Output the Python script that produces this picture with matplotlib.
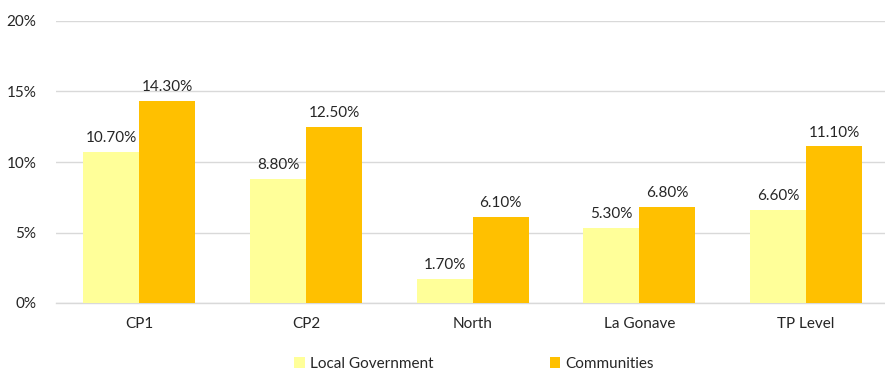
import numpy as np
import matplotlib
matplotlib.use("Agg")
import matplotlib.pyplot as plt
from matplotlib.patches import Patch

regions = ["CP1", "CP2", "North", "La Gonave", "TP Level"]
local_government = [10.7, 8.8, 1.7, 5.3, 6.6]
communities = [14.3, 12.5, 6.1, 6.8, 11.1]
series_names = ["Local Government", "Communities"]
y_ticks = [0, 5, 10, 15, 20]

light = "#FFFF99"
gold = "#FFC000"
text_col = "#262626"

plt.rcParams["font.family"] = ["Lato", "DejaVu Sans"]

fig = plt.figure(figsize=(8.85, 3.71), dpi=100)
ax = fig.add_axes([56 / 885, 68 / 371, 833.5 / 885, 282 / 371])

x = np.arange(len(regions))
w = 0.336
b1 = ax.bar(x - w / 2, local_government, w, color=light, zorder=3)
b2 = ax.bar(x + w / 2, communities, w, color=gold, zorder=3)

for bars, vals in ((b1, local_government), (b2, communities)):
    for bar, v in zip(bars, vals):
        ax.annotate(f"{v:.2f}%", (bar.get_x() + bar.get_width() / 2, v),
                    xytext=(0, 5), textcoords="offset points",
                    ha="center", va="bottom", fontsize=11, color=text_col)

ax.set_xlim(-0.5, len(regions) - 0.5)
ax.set_ylim(0, 20)
ax.set_yticks(y_ticks)
ax.set_yticklabels([f"{t}%" for t in y_ticks])
ax.set_xticks(x)
ax.set_xticklabels(regions)
ax.tick_params(axis="both", length=0, labelsize=11, labelcolor=text_col)
ax.tick_params(axis="y", pad=14)
ax.tick_params(axis="x", pad=10)

ax.grid(axis="y", color="#D9D9D9", linewidth=1, zorder=0)
for side in ("top", "right", "left"):
    ax.spines[side].set_visible(False)
ax.spines["bottom"].set_color("#D9D9D9")
ax.spines["bottom"].set_linewidth(1)

handles = [Patch(facecolor=light), Patch(facecolor=gold)]
fig.legend(handles, series_names, loc="center", bbox_to_anchor=(474 / 885, 7 / 371),
           ncol=2, frameon=False, fontsize=11, handlelength=0.7, handleheight=0.7,
           handletextpad=0.35, columnspacing=7.6, labelcolor=text_col)

fig.savefig("out.png", dpi=100)
